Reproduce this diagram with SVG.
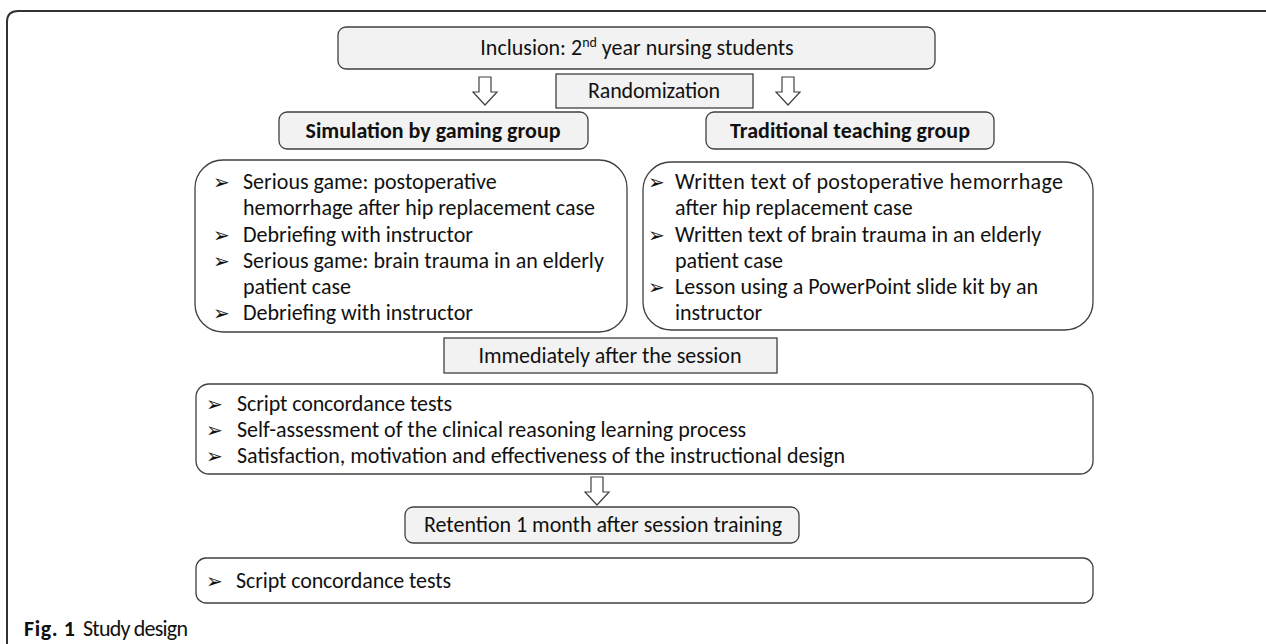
<svg xmlns="http://www.w3.org/2000/svg" width="1266" height="644" viewBox="0 0 1266 644">
<style>
text{font-family:Carlito,Lato,"Liberation Sans",sans-serif;fill:#111;font-size:22px}
.box{fill:#fff;stroke:#404040;stroke-width:1.3}
.gbox{fill:#f2f2f2;stroke:#404040;stroke-width:1.3}
.b{font-weight:bold}
.c{text-anchor:middle}
.bul{font-family:"DejaVu Sans",sans-serif;font-size:20px}
.arr{fill:#fff;stroke:#404040;stroke-width:1.2}
</style>
<defs>
<polygon id="dn" points="-6,0 6,0 6,15 12,15 0,28 -12,15 -6,15"/>
</defs>
<path d="M7 644 V22 Q7 11 18 11 H1266" fill="none" stroke="#333" stroke-width="2"/>

<g id="inclusion">
<rect class="gbox" x="338" y="27" width="597" height="42" rx="8"/>
<text class="c" x="637" y="55">Inclusion: 2<tspan font-size="14" dy="-8">nd</tspan><tspan dy="8"> year nursing students</tspan></text>
</g>
<g id="randomization">
<rect class="gbox" x="556" y="74" width="197" height="34"/>
<text class="c" x="654" y="98" textLength="132">Randomization</text>
</g>
<g id="sim-group">
<rect class="gbox" x="279" y="112" width="309" height="37" rx="8"/>
<text class="b c" x="433" y="138" textLength="255">Simulation by gaming group</text>
</g>
<g id="trad-group">
<rect class="gbox" x="706" y="112" width="288" height="37" rx="8"/>
<text class="b c" x="850" y="138" textLength="240">Traditional teaching group</text>
</g>
<g id="sim-content">
<rect class="box" x="195" y="160" width="432" height="172" rx="28"/>
<text class="bul" x="213" y="189">➢</text><text x="243" y="189">Serious game: postoperative</text>
<text x="243" y="215" textLength="352">hemorrhage after hip replacement case</text>
<text class="bul" x="213" y="242">➢</text><text x="243" y="242">Debriefing with instructor</text>
<text class="bul" x="213" y="268">➢</text><text x="243" y="268">Serious game: brain trauma in an elderly</text>
<text x="243" y="294">patient case</text>
<text class="bul" x="213" y="320">➢</text><text x="243" y="320">Debriefing with instructor</text>
</g>
<g id="trad-content">
<rect class="box" x="643" y="162" width="450" height="168" rx="28"/>
<text class="bul" x="648" y="189">➢</text><text x="675" y="189" textLength="388">Written text of postoperative hemorrhage</text>
<text x="675" y="215">after hip replacement  case</text>
<text class="bul" x="648" y="242">➢</text><text x="675" y="242">Written text of brain trauma in an elderly</text>
<text x="675" y="268">patient case</text>
<text class="bul" x="648" y="294">➢</text><text x="675" y="294">Lesson using a PowerPoint slide kit by an</text>
<text x="675" y="320">instructor</text>
</g>
<g id="immediately">
<rect class="gbox" x="444" y="338" width="333" height="35"/>
<text class="c" x="610" y="363" textLength="263">Immediately after the session</text>
</g>
<g id="post-tests">
<rect class="box" x="196" y="384" width="897" height="90" rx="13"/>
<text class="bul" x="206" y="411">➢</text><text x="237" y="411" textLength="215">Script concordance tests</text>
<text class="bul" x="206" y="437">➢</text><text x="237" y="437">Self-assessment of the clinical reasoning learning process</text>
<text class="bul" x="206" y="463">➢</text><text x="237" y="463" textLength="608">Satisfaction, motivation and effectiveness of the instructional design</text>
</g>
<g id="retention">
<rect class="gbox" x="405" y="507" width="394" height="36" rx="8"/>
<text class="c" x="603" y="532" textLength="358">Retention 1 month after session training</text>
</g>
<g id="retention-tests">
<rect class="box" x="196" y="558" width="897" height="45" rx="10"/>
<text class="bul" x="206" y="588">➢</text><text x="236" y="588" textLength="215">Script concordance tests</text>
</g>
<g id="connectors">
<use href="#dn" class="arr" x="485" y="77"/>
<use href="#dn" class="arr" x="788" y="77"/>
<use href="#dn" class="arr" x="597" y="477"/>
</g>
<g id="caption">
<text class="b" x="24" y="636" font-size="24" textLength="51">Fig. 1</text>
<text x="83" y="636" font-size="24" textLength="105" style="font-weight:300">Study design</text>
</g>
</svg>
